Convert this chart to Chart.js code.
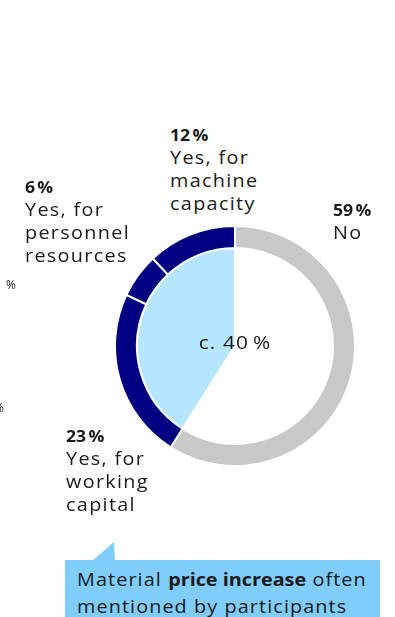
<!DOCTYPE html>
<html>
<head>
<meta charset="utf-8">
<script src="https://cdn.jsdelivr.net/npm/chart.js@4"></script>
<style>
  html, body { margin: 0; padding: 0; background: #ffffff; }
  body { width: 395px; height: 617px; position: relative; overflow: hidden;
         font-family: "Open Sans", sans-serif; color: #1a1a1a; }
  #wrap { position: absolute; left: 114px; top: 225px; width: 242px; height: 242px; }
  .lbl { position: absolute; font-size: 18px; line-height: 23px; letter-spacing: 1.2px; white-space: nowrap;
         transform: scaleX(1.1); transform-origin: left top; }
  .lbl b { display: block; font-size: 16px; font-weight: 700; line-height: 22px; letter-spacing: 0; }
  .center { position: absolute; font-size: 19px; letter-spacing: 1px; transform: translate(-50%, -50%) scaleX(1.1); white-space: nowrap; }
  .edge { position: absolute; font-size: 12px; color: #222; }
  #note { position: absolute; left: 65px; top: 560px; width: 315px; height: 70px; background: #80cdfb; }
  #note p { margin: 0; position: absolute; left: 12px; top: 6px; font-size: 18px; line-height: 27px; letter-spacing: 1px;
            white-space: nowrap; transform: scaleX(1.1); transform-origin: left top; }
  #note p b { letter-spacing: 0; }
</style>
</head>
<body>
<svg width="395" height="617" style="position:absolute;left:0;top:0">
  <polygon points="92,561 114,542 115,561" fill="#80cdfb"/>
</svg>
<div id="wrap"><canvas id="c"></canvas></div>
<div id="labels"></div>
<div class="edge" style="left:6px;top:276px">%</div>
<div class="edge" style="left:-6px;top:399px">%</div>
<div id="note"><p>Material <b>price increase</b> often<br>mentioned by participants</p></div>

<script>
// Survey answers, outer ring (clockwise from 12 o'clock)
const categories = ['No', 'Yes, for working capital', 'Yes, for personnel resources', 'Yes, for machine capacity'];
const labelLines = [['No'], ['Yes, for', 'working', 'capital'], ['Yes, for', 'personnel', 'resources'], ['Yes, for', 'machine', 'capacity']];
const shares = [59, 23, 6, 12];
// Inner pie: share answering "yes" in total vs. the rest
const innerShares = [59, 41];
const centerText = 'c. 40\u202f%';

const GRAY = '#c8c8c8', NAVY = '#000080', LIGHT = '#b5e6fd';

// where each category label block sits
const labelAnchors = [
  { left: 333, top: 199 },
  { left: 66, top: 425 },
  { left: 25, top: 176 },
  { left: 170, top: 124 }
];

const labelsEl = document.getElementById('labels');
categories.forEach((cat, i) => {
  const d = document.createElement('div');
  d.className = 'lbl';
  d.style.left = labelAnchors[i].left + 'px';
  d.style.top = labelAnchors[i].top + 'px';
  d.innerHTML = '<b>' + shares[i] + '\u202f%</b>' + labelLines[i].join('<br>');
  labelsEl.appendChild(d);
});

const chart = new Chart(document.getElementById('c'), {
  type: 'doughnut',
  data: {
    labels: categories,
    datasets: [
      {
        data: shares,
        backgroundColor: [GRAY, NAVY, NAVY, NAVY],
        borderColor: '#ffffff',
        borderWidth: 2,
        weight: 22
      },
      {
        data: innerShares,
        backgroundColor: ['#ffffff', LIGHT],
        borderColor: '#ffffff',
        borderWidth: 2,
        weight: 98
      }
    ]
  },
  options: {
    responsive: true,
    maintainAspectRatio: false,
    animation: false,
    cutout: 0,
    layout: { padding: 0 },
    plugins: { legend: { display: false }, tooltip: { enabled: false } }
  },
  plugins: [{
    id: 'centerLabel',
    afterDraw(ch) {
      const meta = ch.getDatasetMeta(0).data[0];
      const el = document.getElementById('centerLabel') || (() => {
        const e = document.createElement('div');
        e.id = 'centerLabel';
        e.className = 'center';
        document.body.appendChild(e);
        return e;
      })();
      const box = ch.canvas.getBoundingClientRect();
      el.textContent = centerText;
      el.style.left = (box.left + meta.x) + 'px';
      el.style.top = (box.top + meta.y - 4) + 'px';
    }
  }]
});
</script>
</body>
</html>
